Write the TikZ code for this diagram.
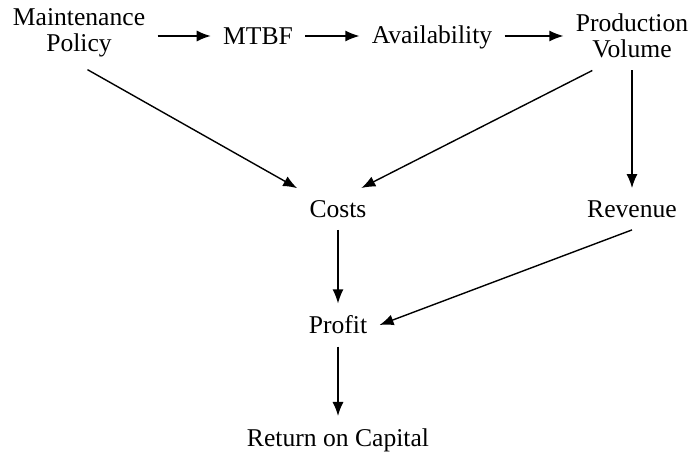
\documentclass[tikz,border=0pt]{standalone}
\usepackage{fontspec}
\setmainfont{Liberation Serif}
\usetikzlibrary{arrows.meta}

\begin{document}
\begin{tikzpicture}[x=0.5pt,y=-0.5pt,
	every node/.style={black,font=\fontsize{12.8}{13}\selectfont,align=center,inner sep=6pt},
	arr/.style={line width=0.7pt,-{Latex[length=7pt,width=5.5pt]}}]
	\useasboundingbox (0,0) rectangle (696,459);

	\node (mp)     at (79,33)  {Maintenance\\Policy};
	\node (mtbf)   at (258,36) {MTBF};
	\node (avail)  at (432,37) {Availability};
	\node (pv)     at (632,36) {Production\\Volume};
	\node (costs)  at (338,209) {Costs};
	\node (rev)    at (pv |- costs) {Revenue};
	\node (profit) at (338,325) {Profit};
	\node (roc)    at (338,440) {Return on Capital};

	\draw[arr] (mp.east |- mtbf) -- (mtbf.west);
	\draw[arr] (mtbf.east) -- (mtbf.east -| avail.west);
	\draw[arr] (avail.east |- mtbf) -- (pv.west |- mtbf);
	\draw[arr] (mp.-77) -- (costs.153);
	\draw[arr] (pv.-139) -- (costs.42);
	\draw[arr] (pv.south) -- (rev.north);
	\draw[arr] (costs.south) -- (profit.north);
	\draw[arr] (rev.south) -- (profit.east);
	\draw[arr] (profit.south) -- (roc.north);
\end{tikzpicture}
\end{document}
